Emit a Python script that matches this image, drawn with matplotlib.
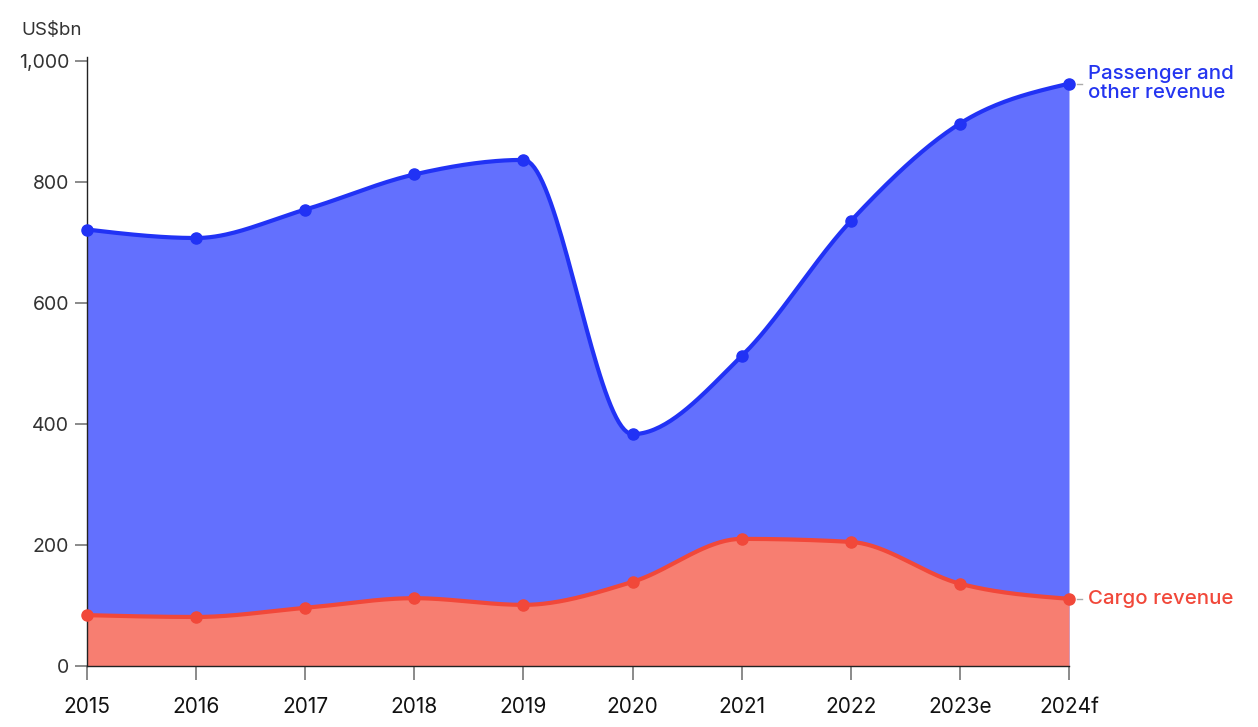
import numpy as np
import matplotlib
matplotlib.use("Agg")
import matplotlib.pyplot as plt

years = ["2015", "2016", "2017", "2018", "2019", "2020", "2021", "2022", "2023e", "2024f"]
cargo = [84, 81, 96, 112, 101, 139, 210, 205, 136, 111]
passenger = [637, 626, 658, 700, 735, 244, 302, 530, 760, 851]
yticks = [0, 200, 400, 600, 800, 1000]

plt.rcParams['font.family'] = ['Inter', 'DejaVu Sans']


def monotone(x, y, n=40):
    x = np.asarray(x, float); y = np.asarray(y, float)
    h = np.diff(x); s = np.diff(y) / h
    m = np.zeros_like(y)
    for i in range(1, len(y) - 1):
        p = (s[i - 1] * h[i] + s[i] * h[i - 1]) / (h[i - 1] + h[i])
        m[i] = (np.sign(s[i - 1]) + np.sign(s[i])) * min(abs(s[i - 1]), abs(s[i]), 0.5 * abs(p))
    m[0] = (3 * s[0] - m[1]) / 2
    m[-1] = (3 * s[-1] - m[-2]) / 2
    xs, ys = [], []
    for i in range(len(h)):
        t = np.linspace(0, 1, n, endpoint=(i == len(h) - 1))
        h00 = 2 * t**3 - 3 * t**2 + 1
        h10 = t**3 - 2 * t**2 + t
        h01 = -2 * t**3 + 3 * t**2
        h11 = t**3 - t**2
        xs.append(x[i] + t * h[i])
        ys.append(h00 * y[i] + h10 * h[i] * m[i] + h01 * y[i + 1] + h11 * h[i] * m[i + 1])
    return np.concatenate(xs), np.concatenate(ys)


x = np.arange(len(years))
total = np.array(cargo) + np.array(passenger)

fig = plt.figure(figsize=(12.58, 7.27), dpi=100)
ax = fig.add_axes([87 / 1258, 1 - 666 / 727, (1069 - 87) / 1258, (666 - 57) / 727])

blue_line = '#2132F5'
blue_fill = '#6370FE'
red_line = '#F1483A'
red_fill = '#F77E71'

xs, ts = monotone(x, total)
_, cs = monotone(x, cargo)
ax.fill_between(xs, 0, ts, color=blue_fill, lw=0, zorder=1)
ax.fill_between(xs, 0, cs, color=red_fill, lw=0, zorder=2)
ax.plot(xs, ts, color=blue_line, lw=3, zorder=3, solid_capstyle='round', clip_on=False)
ax.plot(xs, cs, color=red_line, lw=3, zorder=3, solid_capstyle='round', clip_on=False)
ax.plot(x, total, 'o', color=blue_line, ms=8, zorder=4, clip_on=False)
ax.plot(x, cargo, 'o', color=red_line, ms=8, zorder=4, clip_on=False)

ax.set_xlim(0, len(years) - 1)
ax.set_ylim(0, 1006)
ax.set_xticks(x)
ax.set_xticklabels(years)
ax.set_yticks(yticks)
ax.set_yticklabels([f"{v:,}" for v in yticks])
for sp in ['top', 'right']:
    ax.spines[sp].set_visible(False)
for sp in ['left', 'bottom']:
    ax.spines[sp].set_color('#222222')
    ax.spines[sp].set_linewidth(1)
ax.tick_params(axis='x', length=10, width=1.2, color='#777777', pad=12, labelsize=15, labelcolor='#111111')
ax.tick_params(axis='y', length=9, width=1.2, color='#777777', pad=4, labelsize=14, labelcolor='#333333')

ax.text(-0.6, 1050, "US$bn", fontsize=13.5, color='#333333', ha='left', va='center', clip_on=False)

# end labels
n = len(years) - 1
for val, col, label in [(total[-1], '#2435F0', "Passenger and\nother revenue"), (cargo[-1], '#F1483A', "Cargo revenue")]:
    ax.plot([n + 0.07, n + 0.12], [val, val], color='#aaaaaa', lw=1, clip_on=False)
    ax.text(n + 0.17, val, label, fontsize=14.7, color=col, fontweight='medium', ha='left', va='center',
            linespacing=1.08, clip_on=False)

fig.savefig('out.png', dpi=100)
